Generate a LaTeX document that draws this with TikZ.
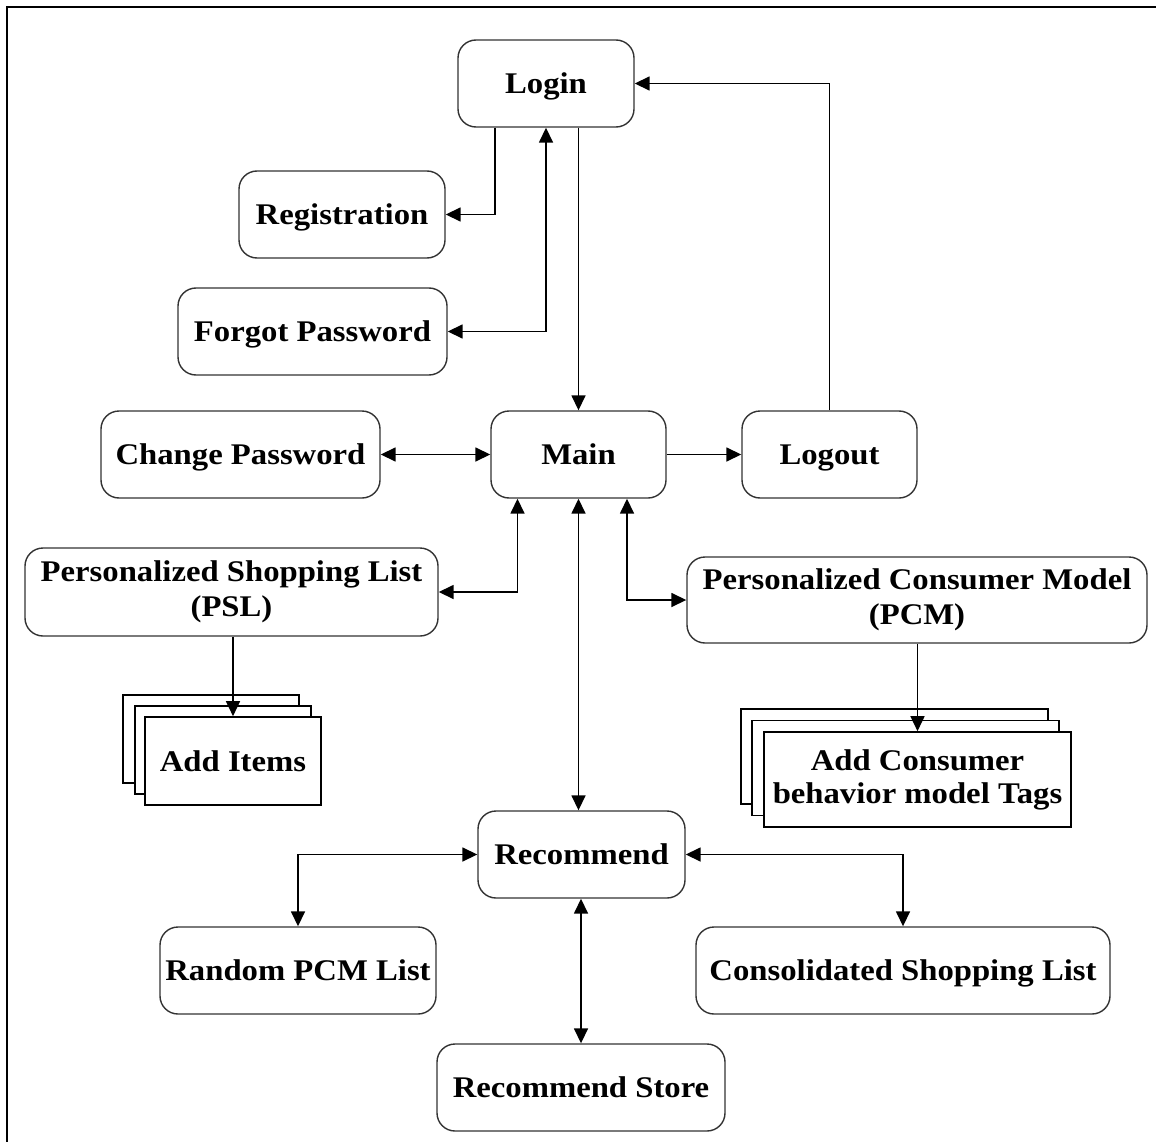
\documentclass[tikz,border=0pt]{standalone}
\usepackage{fontspec}
\setmainfont{Liberation Serif}[FakeStretch=1.09]
\usetikzlibrary{arrows.meta}
\begin{document}
\begin{tikzpicture}[x=1pt,y=-1pt,
  txt/.style={font=\bfseries\fontsize{30}{35}\selectfont, align=center, inner sep=0pt},
  one/.style={text height=26pt, text depth=6pt},
  rbox/.style={txt, draw=black!80, line width=1.4pt, rounded corners=18pt, fill=white},
  sbox/.style={txt, draw=black, line width=1.6pt, fill=white},
  conn/.style={draw=black, line width=1.6pt, -{Triangle[length=15pt,width=14pt]}},
  bconn/.style={draw=black, line width=1.6pt, {Triangle[length=15pt,width=14pt]}-{Triangle[length=15pt,width=14pt]}}
]
\useasboundingbox (0,0) rectangle (1156,1142);

% frame: only the top and left edges are drawn
\draw[line width=2.6pt] (7,1142) -- (7,7) -- (1156,7);

% rounded process boxes
\node[rbox, one, minimum width=176, minimum height=87] (login) at (546,83.5) {Login};
\node[rbox, one, minimum width=206, minimum height=87] (reg) at (342,214.5) {Registration};
\node[rbox, one, minimum width=269, minimum height=87] (forgot) at (312.5,331.5) {Forgot Password};
\node[rbox, one, minimum width=279, minimum height=87] (change) at (240.5,454.5) {Change Password};
\node[rbox, one, minimum width=175, minimum height=87] (main) at (578.5,454.5) {Main};
\node[rbox, one, minimum width=175, minimum height=87] (logout) at (829.5,454.5) {Logout};
\node[rbox, minimum width=413, minimum height=88] (psl) at (231.5,592) {Personalized Shopping List\\(PSL)};
\node[rbox, minimum width=460, minimum height=86] (pcm) at (917,600) {Personalized Consumer Model\\(PCM)};
\node[rbox, one, minimum width=207, minimum height=87] (rec) at (581.5,854.5) {Recommend};
\node[rbox, one, minimum width=276, minimum height=87] (random) at (298,970.5) {Random PCM List};
\node[rbox, one, minimum width=414, minimum height=87] (consol) at (903,970.5) {Consolidated Shopping List};
\node[rbox, one, minimum width=288, minimum height=87] (store) at (581,1087.5) {Recommend Store};

% stacked boxes (multiple documents)
\node[sbox, minimum width=176, minimum height=88] (ai3) at (211,739) {};
\node[sbox, minimum width=176, minimum height=88] (ai2) at (223,750) {};
\node[sbox, one, minimum width=176, minimum height=88] (ai) at (233,761) {Add Items};

\node[sbox, minimum width=307, minimum height=95] (ac3) at (894.5,756.5) {};
\node[sbox, minimum width=307, minimum height=95] (ac2) at (905.5,768) {};
\node[sbox, minimum width=307, minimum height=95, font=\bfseries\fontsize{30}{33}\selectfont] (ac) at (917.5,779.5) {Add Consumer\\behavior model Tags};

% connectors
\draw[conn] (login.south -| main.north) -- (main.north);
\draw[conn] ([xshift=-51pt]login.south) |- (reg.east);
\draw[bconn] (login.south) |- (forgot.east);
\draw[conn] (logout.north) |- (login.east);
\draw[conn] (main.east) -- (logout.west);
\draw[bconn] (change.east) -- (main.west);
\draw[bconn] ([xshift=-61pt]main.south) |- (psl.east);
\draw[bconn] ([xshift=48.5pt]main.south) |- (pcm.west);
\draw[bconn] (main.south) -- (main.south |- rec.north);
\draw[bconn] (rec.west) -| (random.north);
\draw[bconn] (rec.east) -| (consol.north);
\draw[bconn] (rec.south -| store.north) -- (store.north);
\draw[conn] (psl.south -| ai.north) -- (ai.north);
\draw[conn] (pcm.south -| ac.north) -- (ac.north);
\end{tikzpicture}
\end{document}
